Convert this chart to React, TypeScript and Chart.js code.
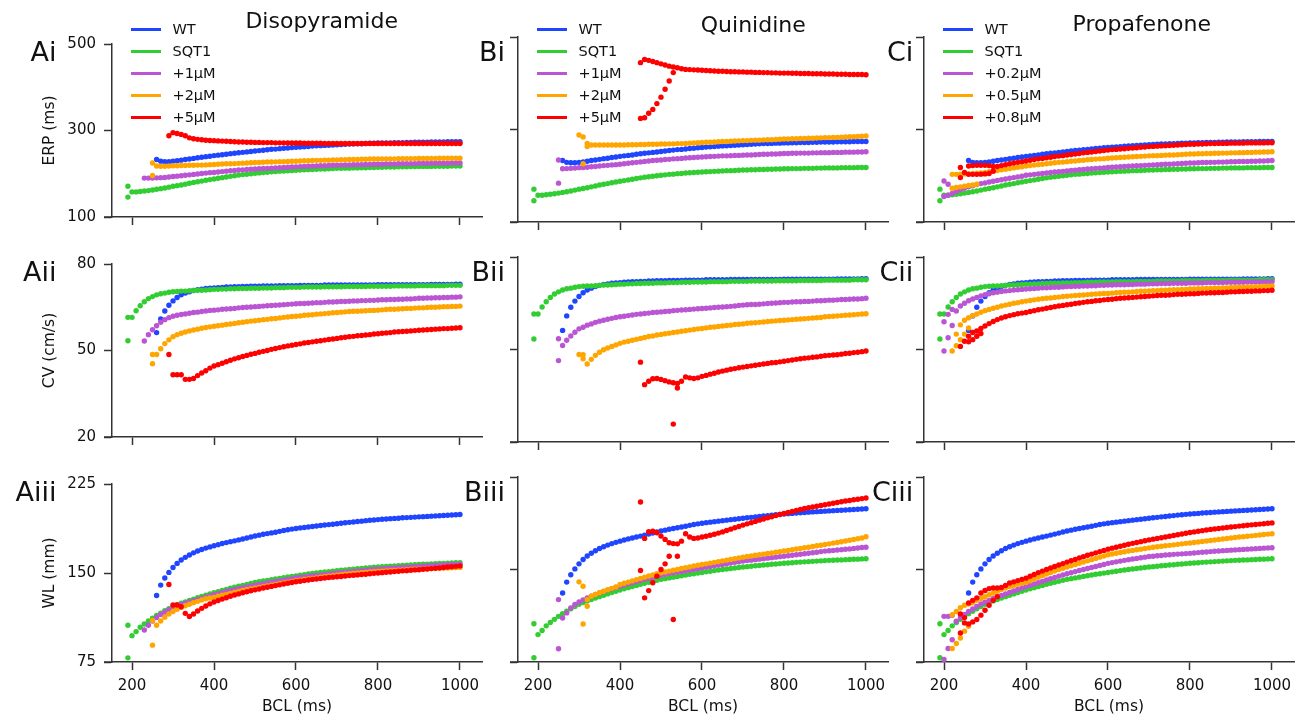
import React, { useEffect, useRef } from 'react';
import { Chart, registerables } from 'chart.js';
Chart.register(...registerables);
Chart.defaults.font.family = '"DejaVu Sans", sans-serif';

const _ = null;

// Basic cycle length (ms): 190, 200 ... 1000
const BCL = [
  190,
  200, 210, 220, 230, 240, 250, 260, 270, 280, 290,
  300, 310, 320, 330, 340, 350, 360, 370, 380, 390,
  400, 410, 420, 430, 440, 450, 460, 470, 480, 490,
  500, 510, 520, 530, 540, 550, 560, 570, 580, 590,
  600, 610, 620, 630, 640, 650, 660, 670, 680, 690,
  700, 710, 720, 730, 740, 750, 760, 770, 780, 790,
  800, 810, 820, 830, 840, 850, 860, 870, 880, 890,
  900, 910, 920, 930, 940, 950, 960, 970, 980, 990,
  1000,
];

const X_TICKS = [200, 400, 600, 800, 1000];
const ERP_TICKS = [100, 300, 500];
const CV_TICKS = [20, 50, 80];
const WL_TICKS = [75, 150, 225];

const DRUGS = ['Disopyramide', 'Quinidine', 'Propafenone'];
const LEGEND_LABELS = [
  ['WT', 'SQT1', '+1µM', '+2µM', '+5µM'],
  ['WT', 'SQT1', '+1µM', '+2µM', '+5µM'],
  ['WT', 'SQT1', '+0.2µM', '+0.5µM', '+0.8µM'],
];
const ROW_TITLES = ['ERP (ms)', 'CV (cm/s)', 'WL (mm)'];

// ---------------- ERP (ms) ----------------
const WT_ERP = [
  _,
  _, _, _, _, _, _, 233, 229, 228, 228,
  229, 230, 231.5, 233, 234, 235.5, 237, 238, 239.5, 240.5,
  242, 243, 244, 245, 246.5, 247.5, 248.5, 249.5, 250.5, 251.5,
  252.5, 253.5, 254.5, 255.5, 256.5, 257, 258, 259, 259.5, 260.5,
  261, 262, 262.5, 263, 264, 264.5, 265, 265.5, 266, 266.5,
  267, 267.5, 268, 268.5, 269, 269.5, 269.5, 270, 270.5, 270.5,
  271, 271, 271.5, 271.5, 272, 272, 272, 272.5, 272.5, 273,
  273, 273, 273, 273.5, 273.5, 273.5, 273.5, 274, 274, 274,
  274,
];
const SQT1_ERP = [
  171,
  158, 158, 159, 160, 161, 162.5, 164, 165.5, 167, 169,
  171, 172.5, 174, 176, 178, 180, 181.5, 183, 185, 186.5,
  188, 189.5, 191, 192.5, 194, 195.5, 197, 198, 199, 200,
  201, 202, 203, 203.5, 204.5, 205, 206, 206.5, 207, 207.5,
  208, 208.5, 209, 209.5, 210, 210.5, 211, 211, 211.5, 212,
  212.5, 212.5, 213, 213, 213.5, 213.5, 214, 214, 214.5, 214.5,
  215, 215, 215.5, 215.5, 215.5, 216, 216, 216, 216.5, 216.5,
  217, 217, 217, 217, 217.5, 217.5, 217.5, 217.5, 218, 218,
  218,
];
const SQT1_ERP_X = [[190, 146]];

const DISO1_ERP = [
  _,
  _, _, _, 190, 190, 190, 190.5, 191, 191.5, 192.5,
  193.5, 194.5, 195.5, 196.5, 197.5, 198.5, 199.5, 200.5, 201.5, 202.5,
  203, 204, 205, 206, 207, 207.5, 208.5, 209, 210, 210.5,
  211, 211.5, 212, 212.5, 213, 213.5, 214, 214.5, 215, 215.5,
  216, 216.5, 217, 217.5, 217.5, 218, 218.5, 218.5, 219, 219.5,
  220, 220, 220.5, 220.5, 221, 221, 221, 221.5, 221.5, 222,
  222, 222, 222.5, 222.5, 222.5, 223, 223, 223, 223.5, 223.5,
  224, 224, 224, 224, 224.5, 224.5, 224.5, 224.5, 225, 225,
  225,
];
const DISO2_ERP = [
  _,
  _, _, _, _, _, 225, 218, 217.5, 217.5, 218,
  218.5, 218.5, 219, 219, 219.5, 219.5, 220, 220, 220.5, 221,
  221.5, 222, 222.5, 223, 223, 223.5, 224, 224.5, 225, 225.5,
  226, 226, 226.5, 227, 227, 227.5, 228, 228, 228.5, 229,
  229, 229.5, 230, 230, 230.5, 231, 231, 231.5, 231.5, 232,
  232, 232.5, 232.5, 233, 233, 233, 233.5, 233.5, 234, 234,
  234, 234.5, 234.5, 234.5, 234.5, 235, 235, 235, 235, 235,
  235.5, 235.5, 235.5, 235.5, 235.5, 236, 236, 236, 236, 236,
  236,
];
const DISO2_ERP_X = [[250, 196]];
const DISO5_ERP = [
  _,
  _, _, _, _, _, _, _, _, _, 288,
  295, 293, 291, 288, 283, 281, 279.5, 278.5, 277.5, 277,
  276.5, 276, 275.5, 275, 274.5, 274, 273.5, 273.5, 273, 273,
  272.5, 272.5, 272, 272, 272, 271.5, 271.5, 271.5, 271, 271,
  271, 271, 270.5, 270.5, 270.5, 270.5, 270.5, 270, 270, 270,
  270, 270, 270, 270, 270, 270, 270, 270, 270, 270,
  270, 270, 270, 270, 270, 270, 270, 270, 270, 270,
  270, 270, 270, 270, 270, 270, 270, 270, 270, 270,
  270,
];

const QUIN1_ERP = [
  _,
  _, _, _, _, _, 234, 215, 215.5, 216, 216.5,
  217.5, 218, 218.5, 219.5, 220, 221, 222, 222.5, 223.5, 224,
  225, 226, 227, 228, 229, 230, 231, 232, 233, 233.5,
  234, 235, 235.5, 236.5, 237, 237.5, 238.5, 239, 239.5, 240,
  240.5, 241, 241.5, 242, 242.5, 243, 243, 243.5, 244, 244,
  244.5, 245, 245, 245.5, 246, 246.5, 246.5, 247, 247, 247.5,
  248, 248, 248.5, 248.5, 249, 249, 249, 249.5, 249.5, 250,
  250, 250, 250.5, 250.5, 250.5, 251, 251, 251, 251.5, 251.5,
  252,
];
const QUIN1_ERP_X = [[250, 184]];
const QUIN2_ERP = [
  _,
  _, _, _, _, _, _, _, _, _, _,
  288, 284, 270, 266.5, 266.5, 266.5, 266.5, 266.5, 266.5, 266.5,
  266.5, 266.5, 267, 267, 267, 267.5, 267.5, 268, 268, 268,
  268.5, 268.5, 269, 269, 269.5, 269.5, 270, 270.5, 271, 271.5,
  272, 272.5, 272.5, 273, 273.5, 274, 274, 274.5, 275, 275.5,
  276, 276, 276.5, 277, 277, 277.5, 278, 278, 278.5, 279,
  279.5, 279.5, 280, 280, 280.5, 280.5, 281, 281, 281.5, 282,
  282.5, 282.5, 283, 283, 283.5, 284, 284.5, 284.5, 285, 285.5,
  286,
];
const QUIN2_ERP_X = [[310, 226], [320, 263]];
const QUIN5_ERP = [
  _,
  _, _, _, _, _, _, _, _, _, _,
  _, _, _, _, _, _, _, _, _, _,
  _, _, _, _, _, 444.5, 451.5, 449.5, 447, 444.5,
  442, 439.5, 437, 435, 433.5, 431.5, 430, 429.5, 429, 428.5,
  428, 427.5, 427, 426.5, 426, 426, 425.5, 425, 425, 424.5,
  424.5, 424, 424, 423.5, 423.5, 423, 423, 422.5, 422.5, 422,
  422, 422, 421.5, 421.5, 421, 421, 421, 420.5, 420.5, 420.5,
  420, 420, 420, 419.5, 419.5, 419.5, 419, 419, 419, 419,
  418.5,
];
const QUIN5_ERP_X = [[450, 324], [460, 325.5], [470, 335], [480, 343.5], [490, 356], [500, 370], [510, 387], [520, 405], [530, 423]];

const PROP02_ERP = [
  _,
  155, 158, 162, 166, 170, 173, 176, 178.5, 181, 183,
  184.5, 186.5, 188, 190, 191.5, 193, 194.5, 196, 197.5, 199,
  201, 202, 203, 204, 205, 206, 207, 208, 208.5, 209.5,
  210.5, 211.5, 212, 213, 213.5, 214.5, 215, 216, 216.5, 217,
  218, 218.5, 219, 219.5, 220, 220.5, 221, 221.5, 222, 222.5,
  223, 223.5, 224, 224.5, 225, 225, 225.5, 226, 226.5, 227,
  227.5, 227.5, 228, 228.5, 228.5, 229, 229, 229.5, 229.5, 230,
  230.5, 230.5, 231, 231, 231, 231.5, 231.5, 232, 232, 232.5,
  233,
];
const PROP02_ERP_X = [[200, 188.5], [210, 181.5]];
const PROP05_ERP = [
  _,
  _, _, 203, 203, 203.5, 204, 204.5, 205, 205.5, 206,
  207, 208.5, 210, 211.5, 213, 214, 215.5, 217, 218.5, 219.5,
  221, 222, 223, 224, 225, 226, 227, 228, 229, 229.5,
  230.5, 231.5, 232, 233, 233.5, 234.5, 235, 236, 236.5, 237,
  238, 238.5, 239, 239.5, 240, 240.5, 241, 241.5, 242, 242.5,
  243, 243.5, 243.5, 244, 244.5, 245, 245, 245.5, 246, 246.5,
  247, 247, 247.5, 247.5, 248, 248, 248.5, 248.5, 249, 249,
  249.5, 249.5, 250, 250, 250.5, 250.5, 251, 251, 251.5, 251.5,
  252,
];
const PROP05_ERP_X = [[220, 173], [230, 174.5], [240, 176], [250, 177.5], [260, 179], [270, 180], [280, 181.5]];
const PROP08_ERP = [
  _,
  _, _, _, _, 218, 207, 221, 222, 222.5, 222.5,
  222.5, 222, 220, 220, 222, 224, 226, 227.5, 229, 230.5,
  232, 233.5, 235, 236.5, 237.5, 239, 240, 241.5, 242.5, 243.5,
  245, 246, 247, 248, 249.5, 250.5, 251.5, 252.5, 253.5, 254.5,
  255.5, 256.5, 257, 258, 258.5, 259.5, 260, 260.5, 261.5, 262,
  263, 263.5, 264, 264.5, 265, 265.5, 266, 266.5, 267, 267.5,
  268, 268, 268.5, 268.5, 269, 269.5, 269.5, 270, 270, 270,
  270.5, 270.5, 270.5, 270.5, 271, 271, 271, 271, 271, 271.5,
  271.5,
];
const PROP08_ERP_X = [[240, 196], [260, 203], [270, 203], [280, 203], [290, 203.5], [300, 204], [310, 205], [320, 210]];

// ---------------- CV (cm/s) ----------------
const WT_CV = [
  _,
  _, _, _, _, _, _, 56.2, 60.9, 63.7, 65.7,
  67.2, 68.4, 69.3, 69.9, 70.4, 70.8, 71.1, 71.3, 71.5, 71.6,
  71.7, 71.8, 71.9, 72, 72, 72.1, 72.1, 72.2, 72.2, 72.3,
  72.3, 72.3, 72.4, 72.4, 72.4, 72.4, 72.5, 72.5, 72.5, 72.5,
  72.5, 72.6, 72.6, 72.6, 72.6, 72.6, 72.6, 72.7, 72.7, 72.7,
  72.7, 72.7, 72.7, 72.7, 72.7, 72.7, 72.7, 72.7, 72.7, 72.7,
  72.8, 72.8, 72.8, 72.8, 72.8, 72.8, 72.8, 72.8, 72.8, 72.8,
  72.8, 72.8, 72.8, 72.9, 72.9, 72.9, 72.9, 72.9, 72.9, 73,
  73,
];
const SQT1_CV = [
  61.5,
  61.5, 63.8, 65.5, 66.9, 68, 68.7, 69.3, 69.7, 69.9, 70.2,
  70.4, 70.5, 70.6, 70.6, 70.7, 70.8, 70.9, 70.9, 71, 71.1,
  71.2, 71.2, 71.3, 71.3, 71.4, 71.4, 71.5, 71.5, 71.5, 71.6,
  71.6, 71.6, 71.7, 71.7, 71.7, 71.8, 71.8, 71.8, 71.9, 71.9,
  71.9, 71.9, 72, 72, 72, 72, 72, 72.1, 72.1, 72.1,
  72.1, 72.1, 72.2, 72.2, 72.2, 72.2, 72.2, 72.2, 72.3, 72.3,
  72.3, 72.3, 72.3, 72.3, 72.4, 72.4, 72.4, 72.4, 72.4, 72.4,
  72.5, 72.5, 72.5, 72.5, 72.5, 72.5, 72.5, 72.6, 72.6, 72.6,
  72.6,
];
const SQT1_CV_X = [[190, 53.4]];

const DISO1_CV = [
  _,
  _, _, _, 53.3, 55.5, 57.2, 58.6, 59.8, 60.7, 61.4,
  61.9, 62.2, 62.5, 62.7, 62.9, 63.2, 63.3, 63.5, 63.7, 63.9,
  64, 64.1, 64.3, 64.4, 64.5, 64.6, 64.8, 64.9, 65, 65.1,
  65.2, 65.3, 65.4, 65.5, 65.6, 65.7, 65.8, 65.9, 66, 66.1,
  66.2, 66.3, 66.3, 66.4, 66.5, 66.6, 66.6, 66.7, 66.8, 66.8,
  66.9, 67, 67, 67.1, 67.2, 67.2, 67.3, 67.3, 67.4, 67.4,
  67.5, 67.6, 67.6, 67.7, 67.7, 67.8, 67.8, 67.9, 67.9, 68,
  68.1, 68.1, 68.2, 68.2, 68.3, 68.3, 68.4, 68.4, 68.5, 68.5,
  68.6,
];
const DISO2_CV = [
  _,
  _, _, _, _, _, 48.6, 48.6, 50.6, 52.4, 53.7,
  54.8, 55.5, 56, 56.4, 56.8, 57.1, 57.4, 57.7, 58, 58.2,
  58.4, 58.6, 58.8, 59, 59.2, 59.4, 59.6, 59.8, 60, 60.2,
  60.3, 60.5, 60.7, 60.8, 61, 61.1, 61.3, 61.5, 61.6, 61.8,
  61.9, 62, 62.2, 62.3, 62.4, 62.6, 62.7, 62.8, 62.9, 63.1,
  63.2, 63.3, 63.4, 63.5, 63.6, 63.6, 63.7, 63.8, 63.9, 63.9,
  64, 64.1, 64.2, 64.3, 64.3, 64.4, 64.5, 64.6, 64.6, 64.7,
  64.8, 64.8, 64.9, 65, 65, 65.1, 65.2, 65.2, 65.3, 65.3,
  65.4,
];
const DISO2_CV_X = [[250, 45.4]];
const DISO5_CV = [
  _,
  _, _, _, _, _, _, _, _, _, 48.6,
  41.6, 41.6, 41.6, 40, 40, 40.3, 41.3, 42.2, 43, 43.9,
  44.6, 45.1, 45.6, 46.1, 46.6, 47.1, 47.5, 47.9, 48.3, 48.7,
  49, 49.4, 49.7, 50, 50.4, 50.7, 51, 51.3, 51.6, 51.8,
  52.1, 52.3, 52.6, 52.8, 53, 53.2, 53.4, 53.6, 53.8, 54,
  54.2, 54.4, 54.6, 54.8, 54.9, 55.1, 55.2, 55.4, 55.5, 55.7,
  55.8, 56, 56.1, 56.2, 56.4, 56.5, 56.6, 56.7, 56.8, 56.9,
  57, 57.1, 57.2, 57.3, 57.4, 57.5, 57.6, 57.6, 57.7, 57.8,
  57.9,
];

const QUIN1_CV = [
  _,
  _, _, _, _, _, 53.5, 51.3, 53, 54.4, 55.6,
  56.7, 57.2, 57.9, 58.3, 58.8, 59.2, 59.5, 59.8, 60.1, 60.4,
  60.6, 60.8, 61, 61.2, 61.4, 61.5, 61.7, 61.8, 62, 62.1,
  62.2, 62.3, 62.4, 62.6, 62.7, 62.8, 62.9, 63, 63.1, 63.2,
  63.3, 63.4, 63.5, 63.6, 63.7, 63.8, 63.9, 64, 64.1, 64.3,
  64.4, 64.5, 64.6, 64.6, 64.7, 64.8, 64.9, 65, 65.1, 65.2,
  65.3, 65.3, 65.4, 65.5, 65.5, 65.6, 65.6, 65.7, 65.8, 65.8,
  65.9, 66, 66, 66.1, 66.2, 66.2, 66.3, 66.4, 66.4, 66.5,
  66.6,
];
const QUIN1_CV_X = [[250, 46.4]];
const QUIN2_CV = [
  _,
  _, _, _, _, _, _, _, _, _, _,
  48.4, 48.3, 45.3, 46.8, 48.1, 49.1, 49.9, 50.5, 51, 51.5,
  52, 52.4, 52.7, 53, 53.3, 53.6, 53.9, 54.2, 54.4, 54.7,
  54.9, 55.1, 55.3, 55.5, 55.7, 55.9, 56.1, 56.3, 56.5, 56.7,
  56.8, 57, 57.2, 57.3, 57.5, 57.6, 57.8, 57.9, 58.1, 58.2,
  58.3, 58.5, 58.6, 58.7, 58.8, 58.9, 59.1, 59.2, 59.3, 59.4,
  59.5, 59.6, 59.7, 59.8, 59.9, 60, 60.1, 60.2, 60.3, 60.4,
  60.6, 60.7, 60.8, 60.9, 61, 61.1, 61.2, 61.3, 61.4, 61.5,
  61.6,
];
const QUIN2_CV_X = [[310, 47]];
const QUIN5_CV = [
  _,
  _, _, _, _, _, _, _, _, _, _,
  _, _, _, _, _, _, _, _, _, _,
  _, _, _, _, _, 45.9, 38.6, 39.7, 40.5, 40.6,
  40.3, 39.9, 39.5, 39.2, 37.5, 39.7, 41.1, 40.8, 40.6, 40.8,
  41.3, 41.6, 42, 42.3, 42.7, 43, 43.3, 43.6, 43.8, 44.1,
  44.3, 44.5, 44.7, 44.9, 45.1, 45.3, 45.5, 45.7, 45.8, 46,
  46.2, 46.4, 46.6, 46.8, 47, 47.2, 47.3, 47.5, 47.6, 47.8,
  48, 48.1, 48.2, 48.3, 48.5, 48.7, 48.8, 49, 49.1, 49.3,
  49.5,
];
const QUIN5_CV_X = [[530, 25.8], [540, 39]];

const PROP02_CV = [
  _,
  59, 61.4, 63, 62.5, 64.1, 65, 65.8, 66.4, 66.9, 67.4,
  67.8, 68.1, 68.4, 68.6, 68.8, 69, 69.1, 69.3, 69.4, 69.5,
  69.6, 69.7, 69.8, 69.9, 70, 70, 70.1, 70.2, 70.2, 70.3,
  70.4, 70.4, 70.5, 70.5, 70.6, 70.6, 70.7, 70.7, 70.8, 70.8,
  70.9, 70.9, 71, 71, 71, 71.1, 71.1, 71.2, 71.2, 71.2,
  71.3, 71.3, 71.3, 71.4, 71.4, 71.4, 71.5, 71.5, 71.5, 71.5,
  71.6, 71.6, 71.6, 71.6, 71.7, 71.7, 71.7, 71.7, 71.7, 71.8,
  71.8, 71.8, 71.8, 71.8, 71.9, 71.9, 71.9, 71.9, 71.9, 72,
  72,
];
const PROP02_CV_X = [[200, 49.5], [210, 53.8], [220, 57.8]];
const PROP05_CV = [
  _,
  _, _, _, 55, 58, 59.5, 60.3, 61, 61.5, 62.1,
  62.6, 63, 63.4, 63.7, 64.1, 64.4, 64.7, 65, 65.2, 65.5,
  65.7, 65.9, 66.1, 66.3, 66.5, 66.6, 66.7, 66.9, 67, 67.2,
  67.3, 67.4, 67.5, 67.6, 67.7, 67.8, 67.9, 68, 68.1, 68.2,
  68.2, 68.3, 68.4, 68.5, 68.6, 68.6, 68.7, 68.8, 68.9, 68.9,
  69, 69.1, 69.1, 69.2, 69.2, 69.3, 69.4, 69.4, 69.5, 69.5,
  69.6, 69.6, 69.7, 69.7, 69.8, 69.8, 69.9, 69.9, 70, 70,
  70.1, 70.1, 70.2, 70.2, 70.3, 70.3, 70.4, 70.4, 70.5, 70.5,
  70.6,
];
const PROP05_CV_X = [[220, 49.5], [230, 51.2], [240, 53.2], [250, 55], [260, 57]];
const PROP08_CV = [
  _,
  _, _, _, _, 51, 52.7, 54.3, 55.5, 56, 56.8,
  57.6, 58.4, 59.1, 59.7, 60.2, 60.6, 61, 61.3, 61.6, 61.8,
  62, 62.3, 62.6, 62.9, 63.1, 63.4, 63.6, 63.9, 64.1, 64.3,
  64.5, 64.7, 64.9, 65.1, 65.3, 65.5, 65.6, 65.8, 65.9, 66.1,
  66.2, 66.3, 66.5, 66.6, 66.7, 66.8, 66.9, 67, 67.1, 67.2,
  67.3, 67.4, 67.5, 67.6, 67.6, 67.7, 67.8, 67.9, 67.9, 68,
  68.1, 68.1, 68.2, 68.3, 68.3, 68.4, 68.4, 68.5, 68.5, 68.6,
  68.7, 68.7, 68.8, 68.8, 68.9, 68.9, 69, 69, 69.1, 69.1,
  69.2,
];
const PROP08_CV_X = [[260, 52.5], [270, 53.2], [280, 54.3], [290, 55.2]];

// ---------------- WL (mm) ----------------
const WT_WL = [
  _,
  _, _, _, _, _, _, 131, 139.8, 145.8, 150.5,
  154.6, 158.1, 160.9, 163.2, 165.2, 167, 168.5, 169.8, 171, 172,
  173, 173.9, 174.8, 175.6, 176.4, 177.1, 177.9, 178.7, 179.5, 180.4,
  181.2, 181.9, 182.6, 183.2, 183.8, 184.4, 185.1, 185.8, 186.5, 187,
  187.5, 188, 188.4, 188.8, 189.2, 189.6, 190, 190.4, 190.8, 191.1,
  191.5, 191.9, 192.3, 192.7, 193, 193.4, 193.7, 194.1, 194.4, 194.7,
  195, 195.3, 195.5, 195.8, 196, 196.2, 196.5, 196.7, 196.9, 197.1,
  197.3, 197.5, 197.7, 197.9, 198.1, 198.3, 198.5, 198.7, 198.9, 199.1,
  199.3,
];
const SQT1_WL = [
  106,
  97.2, 100.6, 104.3, 107, 109.6, 112, 114.2, 116.2, 118.2, 120,
  121.8, 123.2, 124.5, 125.7, 126.9, 128, 129.1, 130.2, 131.3, 132.3,
  133.3, 134.3, 135.3, 136.2, 137.1, 138, 138.8, 139.6, 140.4, 141.2,
  142, 142.6, 143.2, 143.8, 144.4, 144.9, 145.5, 146.1, 146.6, 147.1,
  147.6, 148.1, 148.6, 149.1, 149.6, 150, 150.4, 150.8, 151.2, 151.6,
  152, 152.3, 152.6, 153, 153.3, 153.6, 153.9, 154.2, 154.5, 154.8,
  155.1, 155.3, 155.5, 155.8, 156, 156.2, 156.4, 156.6, 156.8, 157,
  157.2, 157.4, 157.5, 157.7, 157.8, 158, 158.1, 158.3, 158.4, 158.6,
  158.7,
];
const SQT1_WL_X = [[190, 78.5]];

const DISO1_WL = [
  _,
  _, _, _, 102, 106, 109.5, 112.5, 115, 117, 119,
  121, 122.2, 123.4, 124.5, 125.5, 126.5, 127.5, 128.6, 129.7, 130.7,
  131.7, 132.6, 133.5, 134.4, 135.2, 136, 136.8, 137.6, 138.3, 139.1,
  139.8, 140.4, 141, 141.6, 142.2, 142.8, 143.4, 144, 144.6, 145.2,
  145.8, 146.3, 146.7, 147.2, 147.6, 148, 148.4, 148.8, 149.2, 149.6,
  150, 150.4, 150.7, 151, 151.4, 151.7, 152, 152.4, 152.7, 153,
  153.3, 153.5, 153.8, 154, 154.2, 154.4, 154.6, 154.8, 155.1, 155.3,
  155.5, 155.7, 155.9, 156.1, 156.3, 156.5, 156.7, 156.9, 157.1, 157.2,
  157.4,
];
const DISO2_WL = [
  _,
  _, _, _, _, _, 110, 106, 109.5, 112.8, 115.5,
  117.6, 119.4, 121, 122.4, 123.7, 125, 126.1, 127.2, 128.3, 128.9,
  129.5, 130.4, 131.2, 132, 132.8, 133.6, 134.4, 135.2, 135.9, 136.5,
  137.1, 137.8, 138.5, 139.1, 139.8, 140.4, 141, 141.6, 142.2, 142.9,
  143.5, 144, 144.5, 145, 145.5, 145.9, 146.4, 146.9, 147.3, 147.8,
  148.2, 148.6, 148.9, 149.2, 149.6, 149.9, 150.2, 150.5, 150.8, 151.1,
  151.4, 151.6, 151.8, 152, 152.2, 152.4, 152.6, 152.8, 153, 153.1,
  153.3, 153.4, 153.6, 153.7, 153.9, 154, 154.2, 154.3, 154.5, 154.6,
  154.7,
];
const DISO2_WL_X = [[250, 89.2]];
const DISO5_WL = [
  _,
  _, _, _, _, _, _, _, _, _, 140.3,
  123, 123, 121.5, 116, 113.3, 115.5, 118, 120.2, 122.2, 124,
  125.5, 126.8, 128, 129.2, 130.4, 131.5, 132.4, 133.3, 134.2, 135,
  135.8, 136.5, 137.3, 138, 138.7, 139.4, 140, 140.7, 141.3, 142,
  142.6, 143.1, 143.6, 144.1, 144.6, 145, 145.4, 145.8, 146.2, 146.5,
  146.8, 147.1, 147.5, 147.8, 148.1, 148.4, 148.7, 149, 149.4, 149.7,
  150, 150.3, 150.6, 150.9, 151.2, 151.5, 151.8, 152, 152.3, 152.6,
  152.8, 153.1, 153.4, 153.7, 154, 154.3, 154.6, 155, 155.3, 155.6,
  156,
];

const QUIN1_WL = [
  _,
  _, _, _, _, _, 125.6, 110.7, 114.8, 118.8, 121.6,
  123.7, 125.4, 127, 128.4, 129.7, 131, 132.2, 133.3, 134.4, 135.4,
  136.4, 137.4, 138.4, 139.3, 140.2, 141.1, 142, 142.8, 143.7, 144.6,
  145.4, 146.1, 146.7, 147.3, 147.9, 148.4, 149, 149.6, 150.1, 150.7,
  151.3, 151.9, 152.5, 153, 153.6, 154.1, 154.7, 155.2, 155.8, 156.3,
  156.8, 157.2, 157.6, 158, 158.4, 158.8, 159.2, 159.6, 160, 160.4,
  160.8, 161.2, 161.6, 162, 162.4, 162.8, 163.2, 163.6, 164, 164.5,
  164.9, 165.2, 165.5, 165.8, 166.1, 166.4, 166.7, 167.1, 167.4, 167.8,
  168.1,
];
const QUIN1_WL_X = [[250, 85.8]];
const QUIN2_WL = [
  _,
  _, _, _, _, _, _, _, _, _, _,
  140, 136.4, 125.6, 128.3, 129.8, 131.2, 132.4, 133.6, 134.7, 135.8,
  137.8, 138.8, 139.8, 140.8, 141.8, 142.8, 143.8, 144.7, 145.6, 146.5,
  147.3, 148, 148.7, 149.4, 150.1, 150.8, 151.5, 152.1, 152.8, 153.4,
  154, 154.6, 155.2, 155.8, 156.4, 157, 157.6, 158.2, 158.8, 159.4,
  160, 160.5, 161, 161.5, 162, 162.5, 163, 163.5, 164, 164.5,
  165, 165.5, 166, 166.6, 167.1, 167.6, 168.1, 168.6, 169.2, 169.7,
  170.3, 170.8, 171.4, 171.9, 172.5, 173.1, 173.7, 174.3, 174.9, 175.5,
  176.5,
];
const QUIN2_WL_X = [[310, 105.8], [320, 120.2]];
const QUIN5_WL = [
  _,
  _, _, _, _, _, _, _, _, _, _,
  _, _, _, _, _, _, _, _, _, _,
  _, _, _, _, _, 204.7, 175.2, 180.6, 181.1, 179.8,
  177.1, 174.4, 171.7, 171, 170.8, 173, 179, 176.3, 175.2, 175.5,
  176.3, 177, 177.8, 178.6, 179.5, 180.5, 181.6, 182.7, 183.8, 184.9,
  186, 187, 188, 189, 190, 191, 192, 192.8, 193.7, 194.6,
  195.5, 196.3, 197.1, 197.9, 198.7, 199.5, 200.1, 200.7, 201.3, 201.9,
  202.5, 203.1, 203.7, 204.3, 204.9, 205.5, 206, 206.5, 207, 207.5,
  208,
];
const QUIN5_WL_X = [[450, 149.2], [460, 127], [470, 132.9], [480, 139.2], [490, 144.6], [500, 150], [510, 154.6], [520, 160.8], [530, 109.4], [540, 160.8]];

const PROP02_WL = [
  _,
  112, 112, 113, 108, 111, 113.5, 116, 118, 120, 122,
  123.5, 125, 126.5, 127.8, 129, 130.2, 131.4, 132.6, 133.8, 134.9,
  136, 137.1, 138.2, 139.3, 140.4, 141.5, 142.6, 143.6, 144.6, 145.6,
  146.5, 147.4, 148.3, 149.2, 150, 150.8, 151.6, 152.4, 153.2, 154.1,
  155, 155.6, 156.2, 156.8, 157.4, 158, 158.5, 159, 159.5, 160,
  160.5, 160.8, 161.1, 161.4, 161.7, 162, 162.3, 162.5, 162.7, 162.9,
  163.1, 163.4, 163.7, 164, 164.2, 164.5, 164.8, 165, 165.3, 165.5,
  165.7, 165.9, 166.1, 166.3, 166.5, 166.7, 166.9, 167.1, 167.3, 167.5,
  167.6,
];
const PROP02_WL_X = [[200, 77], [210, 86], [220, 93]];
const PROP05_WL = [
  _,
  _, _, 113.4, 116, 119, 121, 122, 123, 125, 126.5,
  128, 129.5, 131, 132.4, 133.7, 135, 136, 137, 138, 138.8,
  139.5, 140.9, 142.3, 143.7, 145, 146.3, 147.6, 148.8, 150, 151,
  152, 153, 154, 155, 156, 157, 158, 159, 160, 161,
  162, 162.6, 163.2, 163.8, 164.4, 165, 165.5, 166, 166.5, 167,
  167.5, 168, 168.4, 168.8, 169.2, 169.6, 170, 170.4, 170.8, 171.2,
  171.5, 171.9, 172.3, 172.7, 173.1, 173.5, 173.9, 174.3, 174.7, 175.1,
  175.5, 175.9, 176.3, 176.6, 177, 177.3, 177.7, 178, 178.4, 178.7,
  179,
];
const PROP05_WL_X = [[220, 86], [230, 90], [240, 94.5], [250, 100], [260, 104]];
const PROP08_WL = [
  _,
  _, _, _, _, 114, 106.7, 122.9, 125, 127, 131,
  133, 134.5, 135, 135, 135.5, 137, 139, 140, 141, 142,
  143, 144.5, 146, 147.5, 148.7, 150, 151.2, 152.4, 153.6, 154.8,
  156, 157.1, 158.2, 159.3, 160.4, 161.5, 162.5, 163.5, 164.5, 165.5,
  166.5, 167.3, 168.1, 168.9, 169.7, 170.5, 171.2, 171.9, 172.6, 173.3,
  174, 174.6, 175.2, 175.8, 176.4, 177, 177.6, 178.2, 178.8, 179.4,
  180, 180.5, 181, 181.5, 182, 182.5, 182.9, 183.3, 183.7, 184.1,
  184.5, 184.8, 185.2, 185.5, 185.9, 186.2, 186.5, 186.8, 187.1, 187.5,
  187.8,
];
const PROP08_WL_X = [[240, 98.5], [250, 111], [260, 105.8], [270, 107.5], [280, 109.4], [290, 113], [300, 117], [310, 121], [320, 125], [330, 128]];

// ---------------- assembly ----------------
type Row = {
  title: string; min: number; max: number; ticks: number[];
  wt: (number | null)[]; sqt: (number | null)[]; sqtX: number[][];
  drugs: (number | null)[][][]; drugX: number[][][][];
};
const ROWS: Row[] = [
  {
    title: ROW_TITLES[0], min: 100, max: 500, ticks: ERP_TICKS,
    wt: WT_ERP, sqt: SQT1_ERP, sqtX: SQT1_ERP_X,
    drugs: [[DISO1_ERP, DISO2_ERP, DISO5_ERP], [QUIN1_ERP, QUIN2_ERP, QUIN5_ERP], [PROP02_ERP, PROP05_ERP, PROP08_ERP]],
    drugX: [[[], DISO2_ERP_X, []], [QUIN1_ERP_X, QUIN2_ERP_X, QUIN5_ERP_X], [PROP02_ERP_X, PROP05_ERP_X, PROP08_ERP_X]],
  },
  {
    title: ROW_TITLES[1], min: 20, max: 80, ticks: CV_TICKS,
    wt: WT_CV, sqt: SQT1_CV, sqtX: SQT1_CV_X,
    drugs: [[DISO1_CV, DISO2_CV, DISO5_CV], [QUIN1_CV, QUIN2_CV, QUIN5_CV], [PROP02_CV, PROP05_CV, PROP08_CV]],
    drugX: [[[], DISO2_CV_X, []], [QUIN1_CV_X, QUIN2_CV_X, QUIN5_CV_X], [PROP02_CV_X, PROP05_CV_X, PROP08_CV_X]],
  },
  {
    title: ROW_TITLES[2], min: 75, max: 225, ticks: WL_TICKS,
    wt: WT_WL, sqt: SQT1_WL, sqtX: SQT1_WL_X,
    drugs: [[DISO1_WL, DISO2_WL, DISO5_WL], [QUIN1_WL, QUIN2_WL, QUIN5_WL], [PROP02_WL, PROP05_WL, PROP08_WL]],
    drugX: [[[], DISO2_WL_X, []], [QUIN1_WL_X, QUIN2_WL_X, QUIN5_WL_X], [PROP02_WL_X, PROP05_WL_X, PROP08_WL_X]],
  },
];

// styles / layout
const COLORS = ['#1f45ff', '#32cd32', '#ba55d3', '#ffa500', '#ff0000'];
const AXIS_COLOR = '#333333';
const TEXT_COLOR = '#111111';
const X_MIN = 151.2;
const X_MAX = 1053.7;
const LEFT0 = 112, COL_STEP = 406, PLOT_W = 370;
const TOP0 = 37, ROW_STEP = 220, PLOT_H = 185;
const PAD_TOP = 10, PAD_RIGHT = 6;
const TITLE_POS = [[321.7, 20.8], [753.3, 24.7], [1141.8, 23.3]];
const LABEL_RIGHT = [56.5, 505, 913.3];

function toPoints(vals: (number | null)[], extra: number[][]) {
  const pts: { x: number; y: number }[] = [];
  BCL.forEach((x, i) => {
    const y = vals[i];
    if (y !== null && y !== undefined) pts.push({ x, y });
  });
  extra.forEach(([x, y]) => pts.push({ x, y }));
  return pts;
}

const spineExt = {
  id: 'spineExt',
  afterDraw(chart: any) {
    const { ctx, chartArea } = chart;
    ctx.save();
    ctx.strokeStyle = AXIS_COLOR;
    ctx.lineWidth = 1.5;
    ctx.beginPath();
    ctx.moveTo(chartArea.left - 8, chartArea.bottom);
    ctx.lineTo(chartArea.left, chartArea.bottom);
    ctx.stroke();
    ctx.restore();
  },
};

function Panel({ r, c }: { r: number; c: number }) {
  const ref = useRef<HTMLCanvasElement>(null);
  const yW = c === 0 ? 71 : 20;
  const xH = r === 2 ? 54 : 12;
  const left = LEFT0 + COL_STEP * c - yW;
  const top = TOP0 + ROW_STEP * r - PAD_TOP;
  const width = yW + PLOT_W + PAD_RIGHT;
  const height = PAD_TOP + PLOT_H + xH;

  useEffect(() => {
    const row = ROWS[r];
    const series = [
      toPoints(row.wt, []),
      toPoints(row.sqt, row.sqtX),
      toPoints(row.drugs[c][0], row.drugX[c][0]),
      toPoints(row.drugs[c][1], row.drugX[c][1]),
      toPoints(row.drugs[c][2], row.drugX[c][2]),
    ];
    const datasets = series
      .map((data, k) => ({
        data,
        backgroundColor: COLORS[k],
        borderColor: COLORS[k],
        pointRadius: 2.7,
        pointBorderWidth: 0,
        pointHoverRadius: 0,
        showLine: false,
      }))
      .reverse();
    const chart = new Chart(ref.current as HTMLCanvasElement, {
      type: 'scatter',
      data: { datasets },
      options: {
        animation: false,
        responsive: false,
        events: [],
        layout: { padding: { top: PAD_TOP, right: PAD_RIGHT, left: 0, bottom: 0 } },
        plugins: { legend: { display: false }, tooltip: { enabled: false } },
        scales: {
          x: {
            type: 'linear',
            min: X_MIN,
            max: X_MAX,
            afterBuildTicks: (s: any) => { s.ticks = X_TICKS.map((v) => ({ value: v })); },
            afterFit: (s: any) => { s.height = xH; },
            grid: { drawOnChartArea: false, drawTicks: true, tickLength: 8, tickColor: AXIS_COLOR, tickWidth: 1.5 },
            border: { display: true, color: AXIS_COLOR, width: 1.5 },
            ticks: {
              display: r === 2, padding: 7, color: TEXT_COLOR, font: { size: 15 }, maxRotation: 0, autoSkip: false,
              callback: (v: any) => String(v),
            },
            title: { display: r === 2, text: 'BCL (ms)', padding: 0, color: TEXT_COLOR, font: { size: 15.5 } },
          },
          y: {
            type: 'linear',
            min: row.min,
            max: row.max,
            afterBuildTicks: (s: any) => { s.ticks = row.ticks.map((v) => ({ value: v })); },
            afterFit: (s: any) => { s.width = yW; },
            grid: { drawOnChartArea: false, drawTicks: true, tickLength: 8, tickColor: AXIS_COLOR, tickWidth: 1.5 },
            border: { display: true, color: AXIS_COLOR, width: 1.5 },
            ticks: { display: c === 0, padding: 8, color: TEXT_COLOR, font: { size: 15 }, callback: (v: any) => String(v) },
            title: { display: c === 0, text: row.title, padding: 0, color: TEXT_COLOR, font: { size: 15.5 } },
          },
        },
      } as any,
      plugins: [spineExt],
    });
    return () => chart.destroy();
  }, [r, c]);

  return (
    <canvas
      ref={ref}
      width={width}
      height={height}
      style={{ position: 'absolute', left, top, width, height }}
    />
  );
}

export default function App() {
  const panels: JSX.Element[] = [];
  const texts: JSX.Element[] = [];
  const numerals = ['i', 'ii', 'iii'];
  const letters = ['A', 'B', 'C'];
  for (let c = 0; c < 3; c++) {
    const spine = LEFT0 + COL_STEP * c;
    texts.push(
      <div key={`t${c}`} style={{
        position: 'absolute', left: TITLE_POS[c][0] - 150, width: 300, textAlign: 'center',
        top: TITLE_POS[c][1] - 0.48 * 22, fontSize: 22, lineHeight: '22px', whiteSpace: 'nowrap',
      }}>{DRUGS[c]}</div>
    );
    LEGEND_LABELS[c].forEach((lab, k) => {
      const y = 29 + 22 * k;
      texts.push(
        <div key={`ll${c}${k}`} style={{
          position: 'absolute', left: spine + 18.5, top: y - 1.5, width: 30.5, height: 3, background: COLORS[k],
        }} />
      );
      texts.push(
        <div key={`lt${c}${k}`} style={{
          position: 'absolute', left: spine + 60.5, top: y - 0.5 - 0.48 * 14.5, fontSize: 14.5, lineHeight: '14.5px',
          whiteSpace: 'nowrap',
        }}>{lab}</div>
      );
    });
    for (let r = 0; r < 3; r++) {
      panels.push(<Panel key={`p${r}${c}`} r={r} c={c} />);
      const cy = TOP0 + ROW_STEP * r + 13.5;
      texts.push(
        <div key={`pl${r}${c}`} style={{
          position: 'absolute', left: LABEL_RIGHT[c] - 120, width: 120, textAlign: 'right',
          top: cy - 0.48 * 27, fontSize: 27, lineHeight: '27px', whiteSpace: 'nowrap',
        }}>{letters[c] + numerals[r]}</div>
      );
    }
  }
  return (
    <div style={{
      position: 'absolute', left: 0, top: 0, width: 1304, height: 717, overflow: 'hidden',
      background: '#ffffff', color: TEXT_COLOR, fontFamily: '"DejaVu Sans", sans-serif',
    }}>
      {panels}
      {texts}
    </div>
  );
}
